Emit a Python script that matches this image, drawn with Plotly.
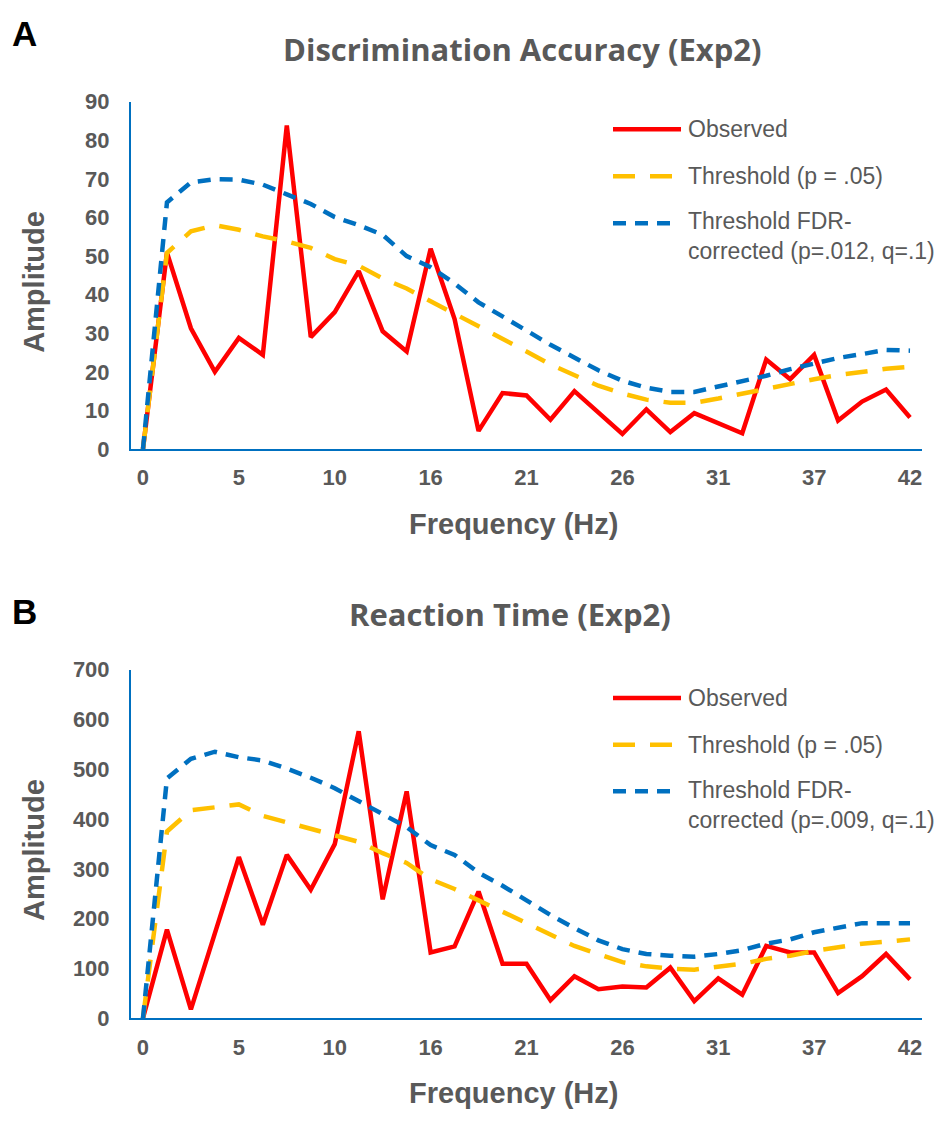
import plotly.graph_objects as go

# ---- data ----
bin_index = list(range(33))
tick_index = [0, 4, 8, 12, 16, 20, 24, 28, 32]
tick_labels = ["0", "5", "10", "16", "21", "26", "31", "37", "42"]

obs_A = [0, 50.9, 31.3, 20.0, 28.8, 24.4, 83.8, 29.0, 35.5, 46.1, 30.5, 25.3, 51.9, 33.7, 4.7,
         14.5, 13.9, 7.6, 15.0, 9.3, 3.9, 10.3, 4.4, 9.3, 6.8, 4.1, 23.2, 18.1, 24.4, 7.4,
         12.3, 15.4, 8.2]
thr_A = [0, 50.8, 56.4, 58.0, 56.8, 55.1, 53.8, 52.1, 49.2, 47.5, 44.2, 41.6, 38.3, 35.1, 32.0,
         28.6, 25.3, 21.9, 19.0, 16.4, 14.4, 12.8, 12.0, 12.0, 13.1, 14.4, 15.6, 17.0, 18.1,
         19.2, 20.0, 20.8, 21.3]
fdr_A = [0, 63.9, 69.1, 69.9, 69.8, 68.5, 66.0, 63.5, 60.1, 58.0, 55.5, 50.0, 47.1, 42.9, 38.0,
         34.5, 30.7, 27.0, 23.6, 20.4, 17.7, 15.9, 14.8, 14.8, 16.2, 17.5, 19.0, 20.7, 22.3,
         23.6, 24.6, 25.7, 25.5]

obs_B = [0, 177.8, 17.6, 170.6, 323.5, 187.6, 328, 258, 349.6, 576.5, 238.6, 455.5, 132, 144,
         254.3, 109.2, 109.2, 36, 84.3, 58.2, 63.4, 61.4, 101.4, 34, 79.7, 47, 145, 132, 132,
         50.3, 84.3, 128.8, 77.8]
thr_B = [0, 375, 417.6, 424, 429.4, 406.5, 393.5, 380.4, 365.4, 354.2, 331.4, 311.8, 279, 259.4,
         236.6, 213.7, 190.8, 168, 145, 128.8, 112.4, 104, 99.4, 97.4, 102.6, 109.2, 119, 125.5,
         135.3, 141.8, 149.6, 153.5, 158.2]
fdr_B = [0, 481.7, 521, 535.3, 524.2, 517.6, 501.3, 483, 462, 436, 409.8, 383.7, 347.6, 328,
         292.2, 266, 236.6, 207.2, 181, 156.3, 138.6, 128.8, 125.5, 123.5, 128.8, 136.6, 149.6,
         158.2, 172.5, 181, 190.8, 190.8, 190.8]

titles = ["Discrimination Accuracy (Exp2)", "Reaction Time (Exp2)"]
legend_names = ["Observed", "Threshold (p = .05)"]
fdr_names = ["Threshold FDR-<br>corrected (p=.012, q=.1)", "Threshold FDR-<br>corrected (p=.009, q=.1)"]

# ---- style ----
W, H = 948, 1124
RED, YEL, BLU = "#FF0000", "#FFC000", "#0070C0"
GRAY = "#595959"
LW = 4.5
DASH_Y = "22px,15px"
DASH_B = "13px,9px"

def px(x):
    return x / W

def py(y):
    return 1 - y / H

fig = go.Figure()

panels = [
    dict(obs=obs_A, thr=thr_A, fdr=fdr_A, ya="y"),
    dict(obs=obs_B, thr=thr_B, fdr=fdr_B, ya="y2"),
]

for i, p in enumerate(panels):
    xa = "x" if i == 0 else "x2"
    fig.add_trace(go.Scatter(x=bin_index, y=p["obs"], mode="lines", xaxis=xa, yaxis=p["ya"],
                             line=dict(color=RED, width=LW), showlegend=False))
    fig.add_trace(go.Scatter(x=bin_index, y=p["thr"], mode="lines", xaxis=xa, yaxis=p["ya"],
                             line=dict(color=YEL, width=LW, dash=DASH_Y), showlegend=False))
    fig.add_trace(go.Scatter(x=bin_index, y=p["fdr"], mode="lines", xaxis=xa, yaxis=p["ya"],
                             line=dict(color=BLU, width=LW, dash=DASH_B), showlegend=False))

tick_font = dict(family="Liberation Sans, Arial", size=22, color=GRAY, weight="bold")
axis_common = dict(showgrid=False, zeroline=False, showline=True, linecolor=BLU, linewidth=2,
                   ticks="", tickfont=tick_font)

xdom = [px(131), px(922)]
layout = dict(
    width=W, height=H, margin=dict(l=0, r=0, t=0, b=0),
    paper_bgcolor="white", plot_bgcolor="white", showlegend=False,
    xaxis=dict(domain=xdom, anchor="y", range=[-0.5, 32.5], tickmode="array",
               tickvals=tick_index, ticktext=tick_labels, ticklabelstandoff=8, **axis_common),
    xaxis2=dict(domain=xdom, anchor="y2", range=[-0.5, 32.5], tickmode="array",
                tickvals=tick_index, ticktext=tick_labels, ticklabelstandoff=8, **axis_common),
    yaxis=dict(domain=[py(447), py(91.7)], anchor="x", range=[0, 90], dtick=10,
               ticklabelstandoff=15, **axis_common),
    yaxis2=dict(domain=[py(1029), py(672.7)], anchor="x2", range=[0, 700], dtick=100,
                ticklabelstandoff=15, **axis_common),
)
fig.update_layout(**layout)

annotations = []
shapes = []
title_font = dict(family="Open Sans, Lato", size=31, color=GRAY)
axis_title_font = dict(family="Liberation Sans, Arial", size=29, color=GRAY)
letter_font = dict(family="Liberation Sans, Arial", size=35, color="black")
legend_font = dict(family="Liberation Sans, Arial", size=23, color=GRAY)

panel_geo = [
    dict(letter="A", letter_y=22, title_x=522, title_y=38, amp_y=276, freq_y=524,
         leg_y=[120, 168, 216], fdr_text_y=229.5),
    dict(letter="B", letter_y=613, title_x=510, title_y=616, amp_y=857, freq_y=1106,
         leg_y=[701.7, 749.3, 797], fdr_text_y=811),
]

for i, g in enumerate(panel_geo):
    annotations.append(dict(text="<b>%s</b>" % g["letter"], x=px(24), y=py(g["letter_y"]),
                            xref="paper", yref="paper", showarrow=False, xanchor="center",
                            yanchor="middle", font=letter_font))
    annotations.append(dict(text="<b>%s</b>" % titles[i], x=px(g["title_x"]), y=py(g["title_y"]),
                            xref="paper", yref="paper", showarrow=False, xanchor="center",
                            yanchor="middle", font=title_font))
    annotations.append(dict(text="<b>Amplitude</b>", x=px(34), y=py(g["amp_y"]), textangle=-90,
                            xref="paper", yref="paper", showarrow=False, xanchor="center",
                            yanchor="middle", font=axis_title_font))
    annotations.append(dict(text="<b>Frequency (Hz)</b>", x=px(513), y=py(g["freq_y"]),
                            xref="paper", yref="paper", showarrow=False, xanchor="center",
                            yanchor="middle", font=axis_title_font))
    texts = [legend_names[0], legend_names[1], fdr_names[i]]
    colors = [RED, YEL, BLU]
    dashes = ["solid", DASH_Y, DASH_B]
    ends = [681, 676, 676]
    for k in range(3):
        ly = g["leg_y"][k]
        shapes.append(dict(type="line", xref="paper", yref="paper", x0=px(613), x1=px(ends[k]),
                           y0=py(ly), y1=py(ly), line=dict(color=colors[k], width=LW, dash=dashes[k])))
        ty = ly if k < 2 else g["fdr_text_y"]
        annotations.append(dict(text=texts[k], x=px(686), y=py(ty), xref="paper", yref="paper",
                                showarrow=False, xanchor="left", yanchor="middle", align="left",
                                font=legend_font))

fig.update_layout(annotations=annotations, shapes=shapes)
fig.write_html("out.html")
